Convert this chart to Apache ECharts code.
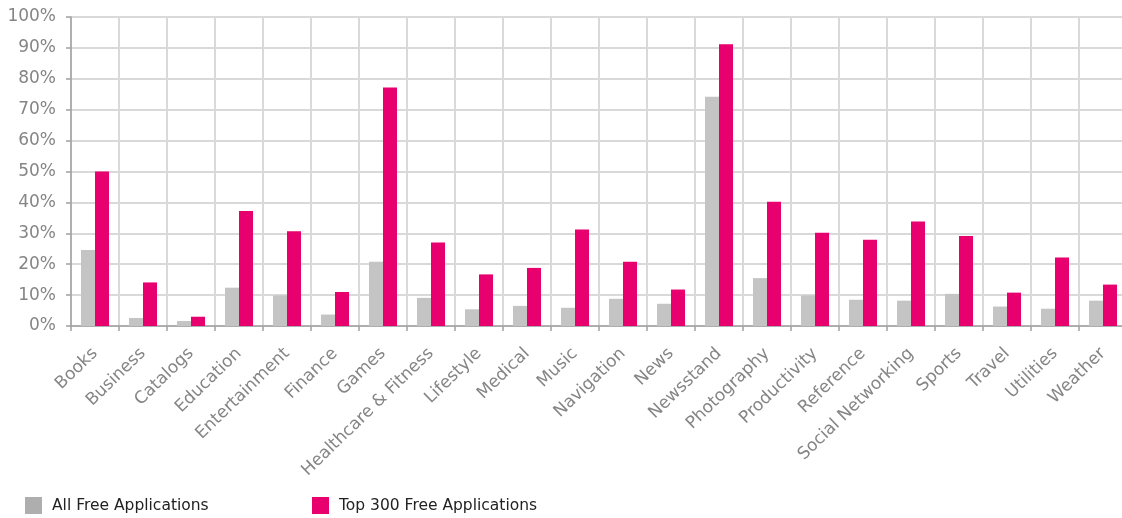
<!DOCTYPE html>
<html>
<head>
<meta charset="utf-8">
<script src="https://cdn.jsdelivr.net/npm/echarts@6/dist/echarts.min.js"></script>
<style>
html,body{margin:0;padding:0;background:#fff;}
#chart{width:1122px;height:518px;}
</style>
</head>
<body>
<div id="chart"></div>
<script>
const categories = ["Books","Business","Catalogs","Education","Entertainment","Finance","Games","Healthcare & Fitness","Lifestyle","Medical","Music","Navigation","News","Newsstand","Photography","Productivity","Reference","Social Networking","Sports","Travel","Utilities","Weather"];
const allFree = [24.6,2.6,1.6,12.4,9.9,3.7,20.8,9.1,5.4,6.5,5.9,8.8,7.2,74.2,15.5,9.9,8.5,8.2,10.4,6.3,5.6,8.2];
const top300 = [50.0,14.1,3.0,37.2,30.7,11.0,77.2,27.0,16.7,18.8,31.2,20.8,11.8,91.2,40.2,30.2,27.9,33.8,29.1,10.8,22.2,13.4];
const seriesNames = ["All Free Applications","Top 300 Free Applications"];
const yTicks = [0,10,20,30,40,50,60,70,80,90,100];

const chart = echarts.init(document.getElementById('chart'), null, {renderer:'canvas'});
const font = 'DejaVu Sans';
chart.setOption({
  animation:false,
  backgroundColor:'#fff',
  grid:{left:71, top:17, width:1056, height:309, containLabel:false, outerBoundsMode:'none'},
  legend:[
    {left:25, top:497, padding:0, itemWidth:17, itemHeight:17, icon:'rect',
     textStyle:{fontFamily:font, fontSize:15.5, color:'#222', padding:[0,0,0,5]},
     data:[{name:seriesNames[0], itemStyle:{color:'#aeaeae'}}]},
    {left:312, top:497, padding:0, itemWidth:17, itemHeight:17, icon:'rect',
     textStyle:{fontFamily:font, fontSize:15.5, color:'#222', padding:[0,0,0,5]},
     data:[{name:seriesNames[1], itemStyle:{color:'#e8006f'}}]}
  ],
  xAxis:{
    type:'category', data:categories,
    axisLine:{show:true, lineStyle:{color:'#a0a0a0', width:1.5}},
    axisTick:{show:true, length:5, interval:0, lineStyle:{color:'#a0a0a0', width:1.5}},
    splitLine:{show:true, interval:0, lineStyle:{color:'#d9d9d9', width:2}},
    axisLabel:{interval:0, rotate:44, margin:25, fontFamily:font, fontSize:17, color:'#858585'}
  },
  yAxis:{
    type:'value', min:0, max:100, interval:10,
    axisLine:{show:true, lineStyle:{color:'#a0a0a0', width:1.5}},
    axisTick:{show:true, length:5, lineStyle:{color:'#a0a0a0', width:1.5}},
    splitLine:{show:true, lineStyle:{color:'#d9d9d9', width:2}},
    axisLabel:{margin:15, fontFamily:font, fontSize:17, color:'#858585',
      formatter:function(v){ return yTicks.indexOf(v)>=0 ? v + '%' : ''; }}
  },
  series:[
    {name:seriesNames[0], type:'bar', data:allFree, barWidth:14, barGap:'0%',
     itemStyle:{color:'#c4c4c4'}},
    {name:seriesNames[1], type:'bar', data:top300, barWidth:14, barGap:'0%',
     itemStyle:{color:'#e8006f'}}
  ]
});
</script>
</body>
</html>
